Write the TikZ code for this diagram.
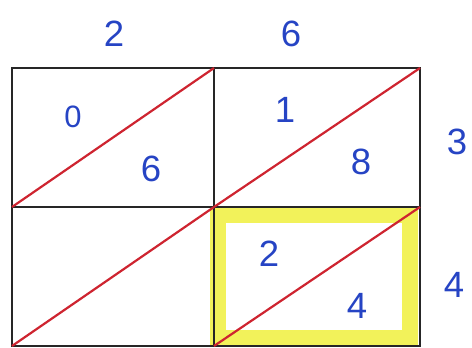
\documentclass[tikz,border=0pt]{standalone}
\usepackage{fontspec}
\setmainfont{Liberation Sans}
\usetikzlibrary{positioning, calc}
\usepackage{xcolor}
\definecolor{InkBlue}{RGB}{38, 68, 196}
\definecolor{PenRed}{RGB}{206, 36, 48}
\definecolor{MarkerYellow}{RGB}{242, 242, 90}

\begin{document}
\begin{tikzpicture}[
    x=0.5mm, y=-0.5mm,
    digit/.style={text=InkBlue, font=\fontsize{52}{52}\selectfont, inner sep=0pt},
    gridline/.style={draw=black!85, line width=1.4mm},
    diag/.style={draw=PenRed, line width=1.1mm},
    highlight/.style={draw=MarkerYellow, line width=8mm}
]
    \useasboundingbox (0,0) rectangle (472,347);

    % Grid corners
    \coordinate (tl) at (12,68);
    \coordinate (tm) at (214,68);
    \coordinate (tr) at (420,68);
    \coordinate (ml) at (12,207);
    \coordinate (mm) at (214,207);
    \coordinate (mr) at (420,207);
    \coordinate (bl) at (12,346);
    \coordinate (bm) at (214,346);
    \coordinate (br) at (420,346);

    % Yellow marker round the answer cell
    \draw [highlight] (218,215) rectangle (410,338);

    % Lattice grid
    \draw [gridline] (tl) rectangle (br);
    \draw [gridline] (tm) -- (bm);
    \draw [gridline] (ml) -- (mr);

    % Diagonals
    \draw [diag] (ml) -- (tm);
    \draw [diag] (mm) -- (tr);
    \draw [diag] (bl) -- (mm);
    \draw [diag] (bm) -- (mr);

    % Factors
    \node (top2) [digit] at (114,34) {2};
    \node (top6) [digit] at (291,34) {6};
    \node (right3) [digit] at (457,142) {3};
    \node (right4) [digit] at (454,285) {4};

    % Partial products
    \node (tens1) [digit, font=\fontsize{44}{44}\selectfont] at (73,117) {0};
    \node (ones1) [digit] at (151,169) {6};
    \node (tens2) [digit] at (285,110) {1};
    \node (ones2) [digit] at (361,162) {8};
    \node (tens4) [digit] at (269,254) {2};
    \node (ones4) [digit] at (357,306) {4};

\end{tikzpicture}
\end{document}
